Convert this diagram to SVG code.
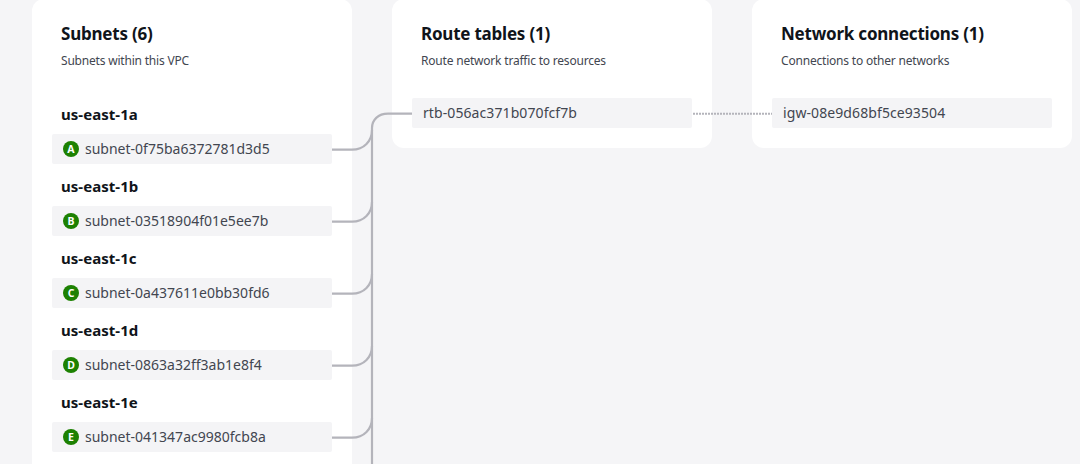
<svg xmlns="http://www.w3.org/2000/svg" width="1080" height="464" viewBox="0 0 1080 464">
<style>
.panel{fill:#fff}
.item{fill:#f4f4f6}
.h{font:700 17px "Noto Sans",sans-serif;fill:#0f141a;letter-spacing:-.22px}
.s{font:400 12px "Noto Sans",sans-serif;fill:#424650;letter-spacing:-.2px}
.az{font:700 15px "Noto Sans",sans-serif;fill:#0f141a;letter-spacing:.04px}
.t{font:400 14px "Noto Sans",sans-serif;fill:#424650}
.w{letter-spacing:.09px}
.b{fill:#1d8102}
.bt{font:700 10.500px "Noto Sans",sans-serif;fill:#fff;text-anchor:middle}
.c{fill:none;stroke:#b4b4bb;stroke-width:2.200}
.d{fill:none;stroke:#b4b4bb;stroke-width:2;stroke-dasharray:2 1}
</style>
<rect width="1080" height="464" fill="#f5f5f7"/>
<g id="subnets-panel">
<rect class="panel" x="32" y="-1" width="320" height="490" rx="12"/>
<text class="h" x="61" y="40">Subnets (6)</text>
<text class="s" x="61" y="65">Subnets within this VPC</text>
</g>
<g id="route-panel">
<rect class="panel" x="392" y="-1" width="320" height="149" rx="12"/>
<text class="h" x="421" y="40">Route tables (1)</text>
<text class="s" x="421" y="65">Route network traffic to resources</text>
</g>
<g id="network-panel">
<rect class="panel" x="752" y="-1" width="320" height="149" rx="12"/>
<text class="h" x="781" y="40">Network connections (1)</text>
<text class="s" x="781" y="65">Connections to other networks</text>
</g>
<g id="connectors">
<path class="c" d="M332 149.700H352C364 149.700 372 141 372 130V128C372 120 378 113.700 388 113.700H412"/>
<path class="c" d="M332 221.700H352C364 221.700 372 213 372 202V130"/>
<path class="c" d="M332 293.700H352C364 293.700 372 285 372 274V202"/>
<path class="c" d="M332 365.700H352C364 365.700 372 357 372 346V274"/>
<path class="c" d="M332 437.700H352C364 437.700 372 429 372 418V346"/>
<path class="c" d="M372 418V464"/>
<path class="d" d="M693 113.700H772"/>
</g>
<g id="subnet-a">
<text class="az" x="61" y="120">us-east-1a</text>
<rect class="item" x="52" y="134" width="280" height="30" rx="2"/>
<circle class="b" cx="71" cy="149" r="8"/><text class="bt" x="71" y="152.800">A</text>
<text class="t" x="85" y="154">subnet-0f75ba6372781d3d5</text>
</g>
<g id="subnet-b">
<text class="az" x="61" y="192">us-east-1b</text>
<rect class="item" x="52" y="206" width="280" height="30" rx="2"/>
<circle class="b" cx="71" cy="221" r="8"/><text class="bt" x="71" y="224.800">B</text>
<text class="t" x="85" y="226">subnet-03518904f01e5ee7b</text>
</g>
<g id="subnet-c">
<text class="az" x="61" y="264">us-east-1c</text>
<rect class="item" x="52" y="278" width="280" height="30" rx="2"/>
<circle class="b" cx="71" cy="293" r="8"/><text class="bt" x="71" y="296.800">C</text>
<text class="t" x="85" y="298">subnet-0a437611e0bb30fd6</text>
</g>
<g id="subnet-d">
<text class="az" x="61" y="336">us-east-1d</text>
<rect class="item" x="52" y="350" width="280" height="30" rx="2"/>
<circle class="b" cx="71" cy="365" r="8"/><text class="bt" x="71" y="368.800">D</text>
<text class="t" x="85" y="370">subnet-0863a32ff3ab1e8f4</text>
</g>
<g id="subnet-e">
<text class="az" x="61" y="408">us-east-1e</text>
<rect class="item" x="52" y="422" width="280" height="30" rx="2"/>
<circle class="b" cx="71" cy="437" r="8"/><text class="bt" x="71" y="440.800">E</text>
<text class="t" x="85" y="442">subnet-041347ac9980fcb8a</text>
</g>
<g id="route-table">
<rect class="item" x="412" y="98" width="280" height="30" rx="2"/>
<text class="t w" x="423" y="118">rtb-056ac371b070fcf7b</text>
</g>
<g id="igw">
<rect class="item" x="772" y="98" width="280" height="30" rx="2"/>
<text class="t w" x="783" y="118">igw-08e9d68bf5ce93504</text>
</g>
</svg>
